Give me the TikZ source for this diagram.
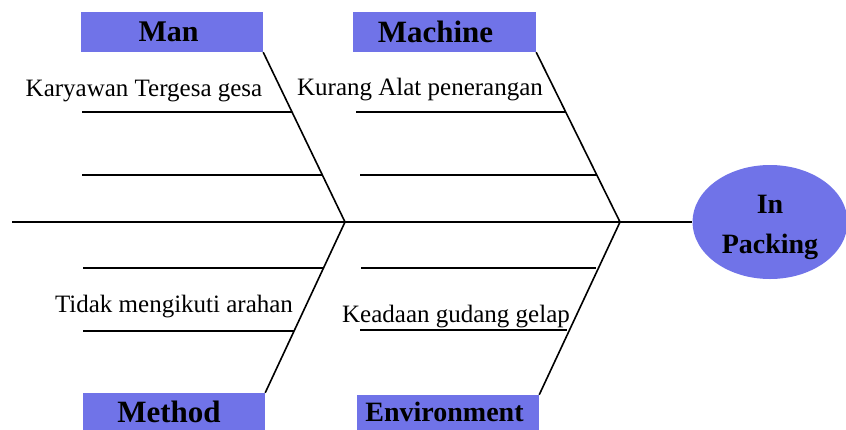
\documentclass[tikz,border=0pt]{standalone}
\usepackage{fontspec}
\setmainfont{Liberation Serif}
\usetikzlibrary{shapes.geometric}
\definecolor{catblue}{RGB}{112,115,232}

\begin{document}
\begin{tikzpicture}[x=1pt, y=-1pt,
    cat/.style={fill=catblue, minimum width=182pt, minimum height=40pt, inner sep=0pt, font=\fontsize{31}{33}\selectfont\bfseries},
    cause/.style={font=\fontsize{25}{27}\selectfont, inner sep=0pt},
    rib/.style={line width=2.4pt},
    bone/.style={line width=1.6pt}]
    \useasboundingbox (0,0) rectangle (846,429);

    % categories and effect
    \node[cat, font=\fontsize{30}{32}\selectfont\bfseries] (man) at (172, 32) {\hspace*{-7pt}Man};
    \node[cat, minimum width=183pt] (machine) at (444.5, 32) {\hspace*{-18pt}Machine};
    \node[cat] (method) at (174, 413) {\hspace*{-10pt}\raisebox{2pt}{Method}};
    \node[cat, font=\fontsize{28}{30}\selectfont\bfseries] (env) at (448, 415) {\hspace*{-7pt}\raisebox{6pt}{Environment}};
    \node[ellipse, fill=catblue, minimum width=155pt, minimum height=114pt, inner sep=0pt, align=center,
          font=\fontsize{28}{40}\selectfont\bfseries] (effect) at (770, 222) {\rule{0pt}{30pt}In\\Packing};

    % spine
    \coordinate (tail) at (12, 222);
    \coordinate (j1) at (345, 222);
    \coordinate (j2) at (620, 222);
    \draw[rib] (tail) -- (effect);

    % bones
    \draw[bone] (man.south east) -- (j1);
    \draw[bone] (method.north east) -- (j1);
    \draw[bone] (machine.south east) -- (j2);
    \draw[bone] (env.north east) -- (j2);

    % ribs
    \coordinate (a1) at (82, 112);   \coordinate (a1e) at (292, 112);
    \coordinate (a2) at (82, 175);   \coordinate (a2e) at (322, 175);
    \coordinate (b1) at (356, 112);  \coordinate (b1e) at (566, 112);
    \coordinate (b2) at (360, 175);  \coordinate (b2e) at (597, 175);
    \coordinate (c1) at (83, 268);   \coordinate (c1e) at (323, 268);
    \coordinate (c2) at (83, 331);   \coordinate (c2e) at (294, 331);
    \coordinate (d1) at (361, 268);  \coordinate (d1e) at (596, 268);
    \coordinate (d2) at (360, 330);  \coordinate (d2e) at (567, 330);
    \draw[rib] (a1) -- (a1e);
    \draw[rib] (a2) -- (a2e);
    \draw[rib] (b1) -- (b1e);
    \draw[rib] (b2) -- (b2e);
    \draw[rib] (c1) -- (c1e);
    \draw[rib] (c2) -- (c2e);
    \draw[rib] (d1) -- (d1e);
    \draw[rib] (d2) -- (d2e);

    % causes
    \node[cause] (karyawan) at (144, 91) {Karyawan Tergesa gesa};
    \node[cause] (alat) at (420, 90) {Kurang Alat penerangan};
    \node[cause] (arahan) at (174, 307) {Tidak mengikuti arahan};
    \node[cause] (gudang) at (456, 317) {Keadaan gudang gelap};
\end{tikzpicture}
\end{document}
